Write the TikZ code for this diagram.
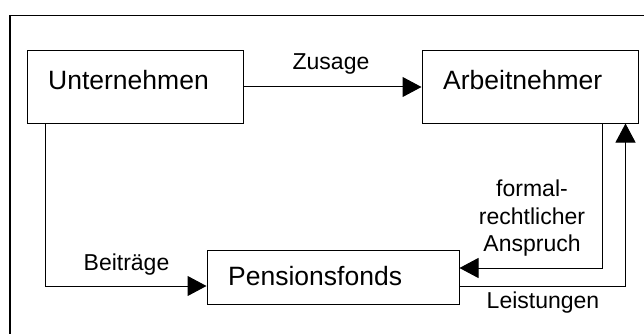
\documentclass[tikz,border=0pt]{standalone}
\usepackage{fontspec}
\setmainfont{Liberation Sans}
\usetikzlibrary{arrows.meta,calc}
\begin{document}
\begin{tikzpicture}[x=1pt,y=-1pt,
  box/.style={draw, line width=1pt, inner sep=0pt},
  boxtext/.style={inner sep=0pt, anchor=base west, font=\fontsize{26.5}{32}\selectfont},
  lbl/.style={inner sep=0pt, anchor=base, font=\fontsize{23}{27}\selectfont},
  conn/.style={line width=1pt},
  arr/.style={conn, -{Triangle[length=19pt,width=20pt]}}]
\useasboundingbox (0,0) rectangle (644,334);
\fill[white] (0,0) rectangle (644,334);
% frame
\draw[line width=1.3pt] (10,334) -- (10,15.5) -- (644,15.5);
% boxes
\node[box, minimum width=216pt, minimum height=72pt] (U) at (135,87) {};
\node[box, minimum width=216pt, minimum height=72pt] (A) at (530,87) {};
\node[box, minimum width=252pt, minimum height=54pt] (P) at (333,277) {};
\node[boxtext] (Ut) at (48,89) {Unternehmen};
\node[boxtext] (At) at (443,89) {Arbeitnehmer};
\node[boxtext] (Pt) at (228,285) {Pensionsfonds};
% connectors
\draw[arr] (U.east) -- (U.east -| A.west);
\coordinate (b0) at ($(U.south west)+(19,0)$);
\coordinate (pb) at ($(P.west)+(0,9)$);
\draw[arr] (b0) |- (pb);
\coordinate (a0) at ($(A.south west)+(181,0)$);
\coordinate (pa) at ($(P.east)+(0,-9)$);
\draw[arr] (a0) |- (pa);
\coordinate (pl) at ($(P.east)+(0,9)$);
\coordinate (a1) at ($(A.south west)+(204,0)$);
\draw[arr] (pl) -| (a1);
% labels
\node[lbl] (z) at (331,70) {Zusage};
\node[lbl] (b) at (126.5,270.7) {Beiträge};
\node[lbl] (f1) at (532,196.7) {formal-};
\node[lbl] (f2) at (532,224) {rechtlicher};
\node[lbl] (f3) at (532,251.5) {Anspruch};
\node[lbl] (l) at (543,308) {Leistungen};
\end{tikzpicture}
\end{document}
